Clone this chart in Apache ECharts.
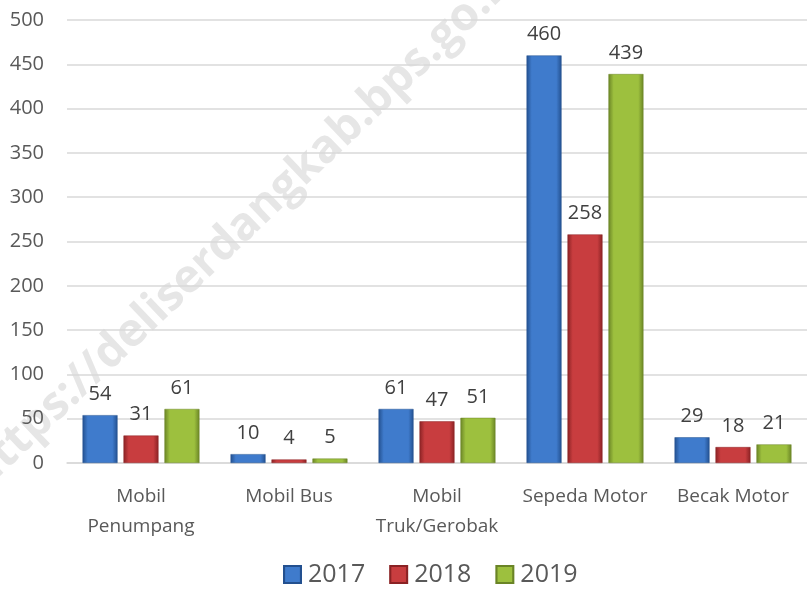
<!DOCTYPE html>
<html>
<head>
<meta charset="utf-8">
<script src="https://cdn.jsdelivr.net/npm/echarts@6/dist/echarts.min.js"></script>
<style>
  html, body { margin: 0; padding: 0; background: #fff; }
  #chart { width: 807px; height: 592px; }
</style>
</head>
<body>
<div id="chart"></div>
<script>
const categories = ['Mobil\nPenumpang', 'Mobil Bus', 'Mobil\nTruk/Gerobak', 'Sepeda Motor', 'Becak Motor'];
const data2017 = [54, 10, 61, 460, 29];
const data2018 = [31, 4, 47, 258, 18];
const data2019 = [61, 5, 51, 439, 21];
const yTicks = [0, 500, 50];

const font = 'Open Sans, Calibri, sans-serif';

// bevel-ish look: dark edges, lighter middle
const bevel = (edge, mid) => new echarts.graphic.LinearGradient(0, 0, 1, 0, [
  { offset: 0, color: edge },
  { offset: 0.15, color: mid },
  { offset: 0.85, color: mid },
  { offset: 1, color: edge }
]);

const makeSeries = (name, data, edge, mid) => ({
  name: name,
  type: 'bar',
  data: data,
  barGap: '17%',
  barCategoryGap: '21%',
  itemStyle: { color: bevel(edge, mid), borderColor: edge, borderWidth: 0.5 },
  label: {
    show: true,
    position: 'top',
    distance: 11,
    color: '#404040',
    fontSize: 20,
    fontFamily: font
  },
  z: 3
});

const myChart = echarts.init(document.getElementById('chart'));
myChart.setOption({
  animation: false,
  color: ['#3b74c2', '#c0393b', '#97b83a'],
  graphic: [{
    type: 'text',
    x: 245,
    y: 225,
    rotation: 0.76,
    z: -1,
    silent: true,
    style: {
      text: 'https://deliserdangkab.bps.go.id',
      fill: '#e6e6e6',
      font: 'bold 46px ' + font,
      align: 'center',
      verticalAlign: 'middle'
    }
  }],
  legend: {
    bottom: 0,
    left: 278,
    itemWidth: 17,
    itemHeight: 17,
    itemGap: 24,
    icon: 'rect',
    textStyle: { fontSize: 25, color: '#595959', fontFamily: font, padding: [0, 0, 0, 2] }
  },
  grid: {
    left: 67,
    right: 0,
    top: 20,
    bottom: 129,
    containLabel: false
  },
  xAxis: {
    type: 'category',
    data: categories,
    axisTick: { show: false },
    axisLine: { lineStyle: { color: '#d9d9d9', width: 1.5 } },
    axisLabel: {
      interval: 0,
      hideOverlap: false,
      color: '#595959',
      fontSize: 19,
      fontFamily: font,
      margin: 19,
      lineHeight: 30
    }
  },
  yAxis: {
    type: 'value',
    min: yTicks[0],
    max: yTicks[1],
    interval: yTicks[2],
    axisLine: { show: false },
    axisTick: { show: false },
    splitLine: { lineStyle: { color: '#d9d9d9', width: 1.5 } },
    axisLabel: {
      color: '#595959',
      fontSize: 20,
      fontFamily: font,
      margin: 23
    }
  },
  series: [
    makeSeries('2017', data2017, '#23508f', '#3f7bcc'),
    makeSeries('2018', data2018, '#8a2224', '#c83d3f'),
    makeSeries('2019', data2019, '#6a8426', '#9dc03e')
  ]
});
</script>
</body>
</html>
